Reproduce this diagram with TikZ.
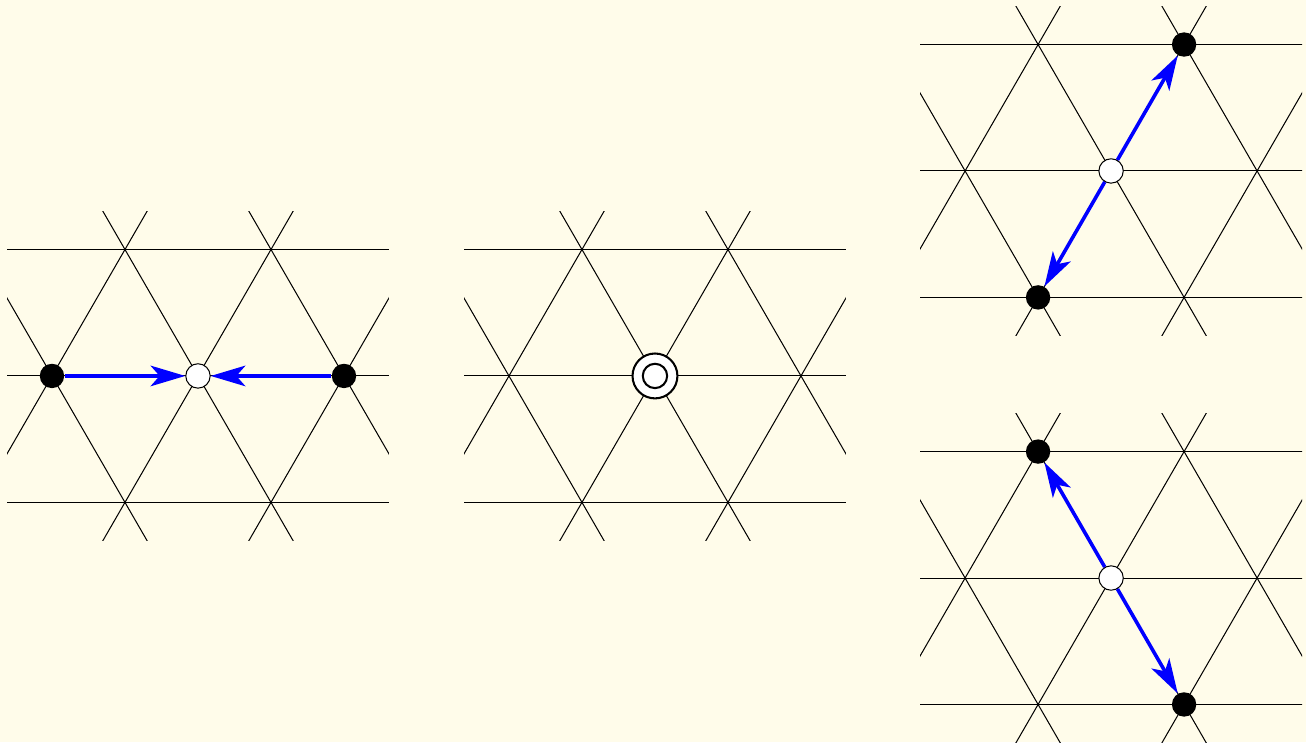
\documentclass[tikz,border=0pt]{standalone}
\usetikzlibrary{arrows.meta}
\definecolor{paper}{RGB}{255,252,234}

\begin{document}
\begin{tikzpicture}[x=2cm,y=2cm,
  grid/.style={black,line width=0.4pt},
  bdot/.style={circle,fill=black,inner sep=0pt,minimum size=9.5pt},
  wdot/.style={circle,draw=black,fill=white,line width=0.4pt,inner sep=0pt,minimum size=9.5pt},
  ring/.style={circle,draw=black,fill=white,line width=0.8pt,inner sep=0pt,minimum size=17.5pt},
  arrow/.style={-{Stealth[length=13.5pt,width=8pt,inset=3.5pt]},line width=1.4pt,blue},
]
\fill[paper] (0,0) rectangle (8.945,5.082);

% triangular lattices, one per panel
\foreach \cx/\cy in {1.356/2.507,4.486/2.507,7.610/3.911,7.610/1.123}{
  \begin{scope}[shift={(\cx,\cy)}]
    \clip (-1.308,-1.127) rectangle (1.308,1.127);
    \foreach \k in {-1,0,1}
      \draw[grid] (-1.5,\k*0.866) -- (1.5,\k*0.866);
    \foreach \n in {-3,...,3}{
      \draw[grid] (\n-0.75,-1.299) -- (\n+0.75,1.299);
      \draw[grid] (\n+0.75,-1.299) -- (\n-0.75,1.299);
    }
  \end{scope}
}

% panel 1: two sites moving in
\node[wdot] (mid1) at (1.356,2.507) {};
\node[bdot] (left1) at (0.356,2.507) {};
\node[bdot] (right1) at (2.356,2.507) {};
\draw[arrow] (left1) -- (mid1);
\draw[arrow] (right1) -- (mid1);

% panel 2: double site
\node[ring] (mid2) at (4.486,2.507) {};
\node[circle,draw=black,line width=0.8pt,inner sep=0pt,minimum size=9.5pt] (core2) at (mid2) {};

% panel 3: moving out along 60 degrees
\node[wdot] (mid3) at (7.610,3.911) {};
\node[bdot] (up3) at (8.110,4.777) {};
\node[bdot] (down3) at (7.110,3.045) {};
\draw[arrow] (mid3) -- (up3);
\draw[arrow] (mid3) -- (down3);

% panel 4: moving out along 120 degrees
\node[wdot] (mid4) at (7.610,1.123) {};
\node[bdot] (up4) at (7.110,1.989) {};
\node[bdot] (down4) at (8.110,0.257) {};
\draw[arrow] (mid4) -- (up4);
\draw[arrow] (mid4) -- (down4);

\end{tikzpicture}
\end{document}
